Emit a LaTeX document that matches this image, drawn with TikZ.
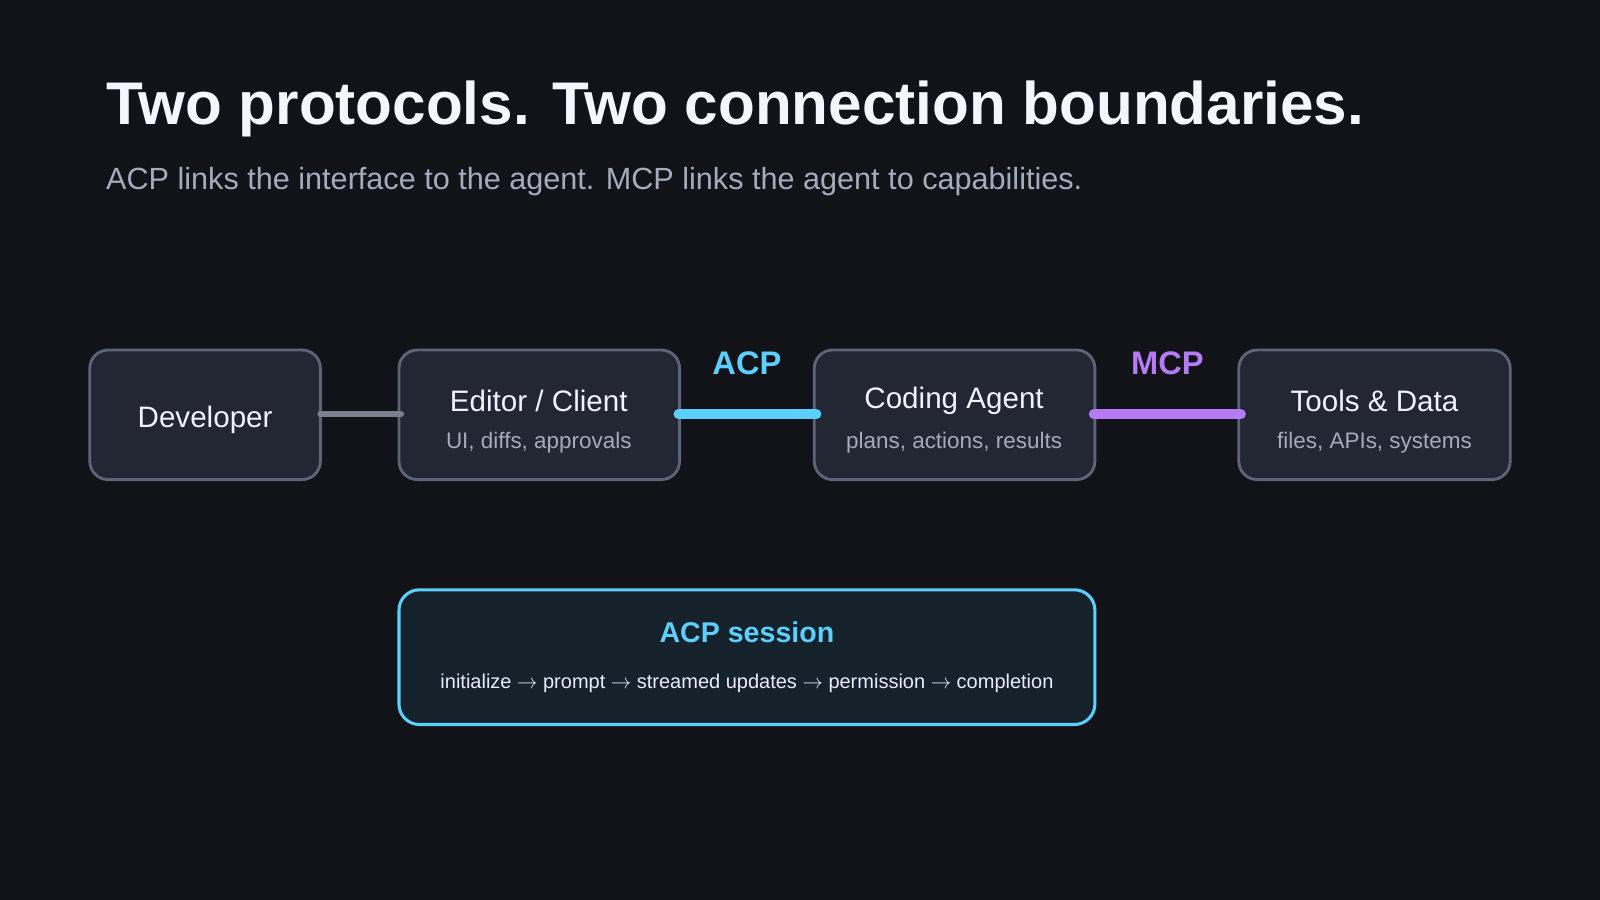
\documentclass[tikz,border=0pt]{standalone}
\usepackage{fontspec}
\setmainfont{Liberation Sans}
\definecolor{bg}{HTML}{121318}
\definecolor{boxf}{HTML}{222733}
\definecolor{boxd}{HTML}{5C6478}
\definecolor{acp}{HTML}{5CCFFF}
\definecolor{mcp}{HTML}{B57BF5}
\definecolor{grayln}{HTML}{7A8090}
\definecolor{sub}{HTML}{A3ACBD}
\definecolor{sessf}{HTML}{15222B}
\begin{document}
\begin{tikzpicture}[x=0.5pt,y=-0.5pt,
  box/.style={draw=boxd,fill=boxf,line width=1.4pt,rounded corners=9pt},
  main/.style={text=white!95!blue,font=\fontsize{14.5}{17}\selectfont},
  subt/.style={text=sub,font=\fontsize{11}{13}\selectfont},
  conn/.style={line cap=round}]
\fill[bg] (0,0) rectangle (1568,882);
\useasboundingbox (0,0) rectangle (1568,882);
\node[anchor=base west,text=white!96!blue,font=\bfseries\fontsize{29.5}{34}\selectfont] (title) at (97,122) {Two protocols. Two connection boundaries.};
\node[anchor=base west,text=sub,font=\fontsize{15}{18}\selectfont] (subtitle) at (97,186) {ACP links the interface to the agent. MCP links the agent to capabilities.};
\draw[box] (88,343) rectangle (314,470);
\coordinate (dev) at (201,406);
\node[main] (devt) at (201,411) {Developer};
\draw[box] (391,343) rectangle (666,470);
\node[main] (edt) at (528,393) {Editor / Client};
\node[subt] (eds) at (528,434) {UI, diffs, approvals};
\draw[box] (798,343) rectangle (1073,470);
\node[main] (agt) at (935,393) {Coding Agent};
\node[subt] (ags) at (935,434) {plans, actions, results};
\draw[box] (1214,343) rectangle (1480,470);
\node[main] (tlt) at (1347,393) {Tools \& Data};
\node[subt] (tls) at (1347,434) {files, APIs, systems};
\coordinate (a1) at (314,406); \coordinate (a2) at (393,406);
\coordinate (b1) at (665,406); \coordinate (b2) at (800,406);
\coordinate (c1) at (1072,406); \coordinate (c2) at (1216,406);
\draw[conn,grayln,line width=3pt] (a1) -- (a2);
\draw[conn,acp,line width=5pt] (b1) -- (b2);
\draw[conn,mcp,line width=5pt] (c1) -- (c2);
\node[text=acp,font=\bfseries\fontsize{16}{19}\selectfont] (acpl) at (732,356) {ACP};
\node[text=mcp,font=\bfseries\fontsize{16}{19}\selectfont] (mcpl) at (1144,356) {MCP};
\draw[draw=acp,fill=sessf,line width=1.5pt,rounded corners=10pt] (391,578) rectangle (1073,710);
\node[text=acp,font=\bfseries\fontsize{14}{17}\selectfont] (st) at (732,620) {ACP session};
\node[text=white!92!blue,font=\fontsize{9.8}{12}\selectfont] (sl) at (732,670) {initialize $\rightarrow$ prompt $\rightarrow$ streamed updates $\rightarrow$ permission $\rightarrow$ completion};
\end{tikzpicture}
\end{document}
